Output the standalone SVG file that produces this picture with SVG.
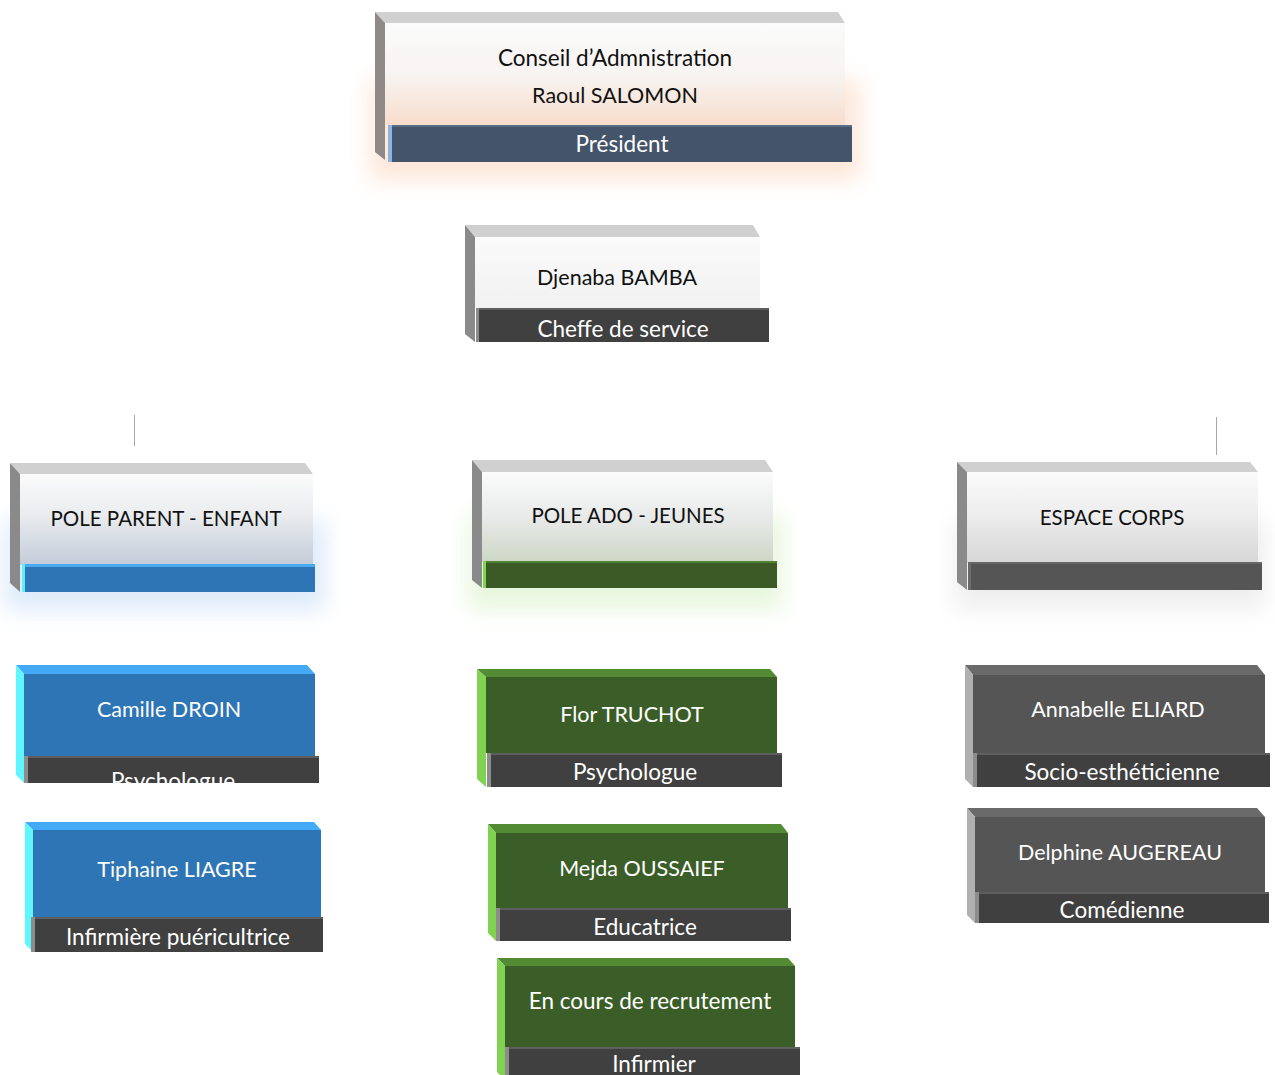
<svg xmlns="http://www.w3.org/2000/svg" width="1275" height="1075" viewBox="0 0 1275 1075">
<defs>
<style>
.t{font-family:Lato,"Liberation Sans",sans-serif;font-size:22.5px;text-anchor:middle}
.c{font-size:21.5px}
.p{font-size:20.5px}
.dk{fill:#111}
.wh{fill:#fff}
.bev{fill:#d0d0d0}
.side{fill:#8a8a8a}
.bar{fill:#404040}
.bartop{fill:#5e5e5e}
.baredge{fill:#8c8c8c}
.conn{stroke:#a6a6a6;stroke-width:1;fill:none}
</style>
<filter id="glow" x="-30%" y="-60%" width="160%" height="220%"><feGaussianBlur stdDeviation="11"/></filter>
<linearGradient id="gPres" x1="0" y1="0" x2="0" y2="1"><stop offset="0" stop-color="#fbfbfb"/><stop offset="0.5" stop-color="#f7f4f2"/><stop offset="1" stop-color="#f9ddcc"/></linearGradient>
<linearGradient id="gWhite" x1="0" y1="0" x2="0" y2="1"><stop offset="0" stop-color="#fbfbfb"/><stop offset="1" stop-color="#f1f1f1"/></linearGradient>
<linearGradient id="gBlue" x1="0" y1="0" x2="0" y2="1"><stop offset="0" stop-color="#fbfbfb"/><stop offset="0.45" stop-color="#eaecef"/><stop offset="1" stop-color="#c3ccd8"/></linearGradient>
<linearGradient id="gGreen" x1="0" y1="0" x2="0" y2="1"><stop offset="0" stop-color="#fbfbfb"/><stop offset="0.5" stop-color="#e8eaea"/><stop offset="1" stop-color="#cdd6c6"/></linearGradient>
<linearGradient id="gGray" x1="0" y1="0" x2="0" y2="1"><stop offset="0" stop-color="#fbfbfb"/><stop offset="0.5" stop-color="#ececec"/><stop offset="1" stop-color="#d6d6d6"/></linearGradient>
<clipPath id="cCam"><rect x="24" y="756" width="296" height="27"/></clipPath>
<clipPath id="cFlor"><rect x="487" y="753" width="296" height="34"/></clipPath>
</defs>
<rect width="1275" height="1075" fill="#fff"/>

<g id="connectors">
<line class="conn" x1="134.5" y1="415" x2="134.5" y2="446"/>
<line class="conn" x1="1216.5" y1="417" x2="1216.5" y2="455"/>
</g>

<g id="president">
<rect x="370" y="80" width="490" height="100" fill="#fbd3ba" opacity="0.55" filter="url(#glow)"/>
<polygon class="bev" points="375,12 838,12 845,23 385,23"/>
<polygon points="375,12 385,23 385,160 375,152" fill="#8f8a88"/>
<rect x="385" y="23" width="460" height="102" fill="url(#gPres)"/>
<rect x="388" y="125" width="464" height="37" fill="#44546a"/>
<rect x="388" y="125" width="464" height="2" fill="#5a6c86"/>
<rect x="388" y="125" width="4" height="37" fill="#8db3e2"/>
<text class="t dk" x="615" y="66">Conseil d’Admnistration</text>
<text class="t c dk" x="615" y="103">Raoul SALOMON</text>
<text class="t wh" x="622" y="152">Président</text>
</g>

<g id="cheffe">
<polygon class="bev" points="465,225 753,225 760,237 475,237"/>
<polygon class="side" points="465,225 475,237 475,342 465,334"/>
<rect x="475" y="237" width="285" height="71" fill="url(#gWhite)"/>
<rect class="bar" x="476" y="308" width="293" height="34"/>
<rect class="bartop" x="476" y="308" width="293" height="2"/>
<rect class="baredge" x="476" y="308" width="3" height="34"/>
<text class="t c dk" x="617" y="285">Djenaba BAMBA</text>
<text class="t wh" x="623" y="337">Cheffe de service</text>
</g>

<g id="pole-parent">
<rect x="5" y="520" width="320" height="90" fill="#cfe2f8" opacity="0.7" filter="url(#glow)"/>
<polygon class="bev" points="10,463 305,463 313,474 20,474"/>
<polygon class="side" points="10,463 20,474 20,592 10,583"/>
<rect x="20" y="474" width="293" height="91" fill="url(#gBlue)"/>
<rect x="22" y="565" width="293" height="27" fill="#2e75b6"/>
<rect x="22" y="564" width="293" height="3" fill="#4aaaf0"/>
<rect x="22" y="564" width="3" height="28" fill="#5cf0ff"/>
<text class="t p dk" x="166" y="526">POLE PARENT - ENFANT</text>
</g>

<g id="pole-ado">
<rect x="468" y="515" width="315" height="95" fill="#dff3d0" opacity="0.7" filter="url(#glow)"/>
<polygon class="bev" points="472,460 765,460 773,472 482,472"/>
<polygon class="side" points="472,460 482,472 482,588 472,580"/>
<rect x="482" y="472" width="291" height="90" fill="url(#gGreen)"/>
<rect x="483" y="562" width="294" height="26" fill="#3b5a26"/>
<rect x="483" y="561" width="294" height="2" fill="#4f8232"/>
<rect x="483" y="561" width="3" height="27" fill="#80d654"/>
<text class="t p dk" x="628" y="523">POLE ADO - JEUNES</text>
</g>

<g id="espace-corps">
<rect x="955" y="520" width="310" height="90" fill="#e4e4e4" opacity="0.6" filter="url(#glow)"/>
<polygon class="bev" points="957,462 1250,462 1258,472 967,472"/>
<polygon class="side" points="957,462 967,472 967,590 957,582"/>
<rect x="967" y="472" width="291" height="91" fill="url(#gGray)"/>
<rect x="968" y="563" width="294" height="27" fill="#555"/>
<rect x="968" y="562" width="294" height="2" fill="#666"/>
<rect x="968" y="562" width="3" height="28" fill="#6a6a6a"/>
<text class="t p dk" x="1112" y="525">ESPACE CORPS</text>
</g>

<g id="camille">
<polygon points="16,665 307,665 315,674 24,674" fill="#45aaf5"/>
<polygon points="16,665 24,674 24,783 16,775" fill="#5ff6ff"/>
<rect x="24" y="674" width="291" height="82" fill="#2e75b6"/>
<rect class="bar" x="24" y="756" width="295" height="27"/>
<rect class="bartop" x="24" y="756" width="295" height="2"/>
<rect class="baredge" x="24" y="756" width="4" height="27"/>
<text class="t c wh" x="169" y="717">Camille DROIN</text>
<text class="t wh" x="173" y="789" clip-path="url(#cCam)">Psychologue</text>
</g>

<g id="tiphaine">
<polygon points="25,822 314,822 321,830 33,830" fill="#45aaf5"/>
<polygon points="25,822 33,830 33,952 25,944" fill="#5ff6ff"/>
<rect x="33" y="830" width="288" height="87" fill="#2e75b6"/>
<rect class="bar" x="31" y="917" width="292" height="35"/>
<rect class="bartop" x="31" y="917" width="292" height="2"/>
<rect class="baredge" x="31" y="917" width="4" height="35"/>
<text class="t c wh" x="177" y="877">Tiphaine LIAGRE</text>
<text class="t wh" x="178" y="945">Infirmière puéricultrice</text>
</g>

<g id="flor">
<polygon points="477,669 770,669 777,677 486,677" fill="#538b35"/>
<polygon points="477,669 486,677 486,787 477,779" fill="#7fd351"/>
<rect x="486" y="677" width="291" height="76" fill="#3b5e28"/>
<rect class="bar" x="487" y="753" width="295" height="34"/>
<rect class="bartop" x="487" y="753" width="295" height="2"/>
<rect class="baredge" x="487" y="753" width="4" height="34"/>
<text class="t c wh" x="632" y="722">Flor TRUCHOT</text>
<text class="t wh" x="635" y="780" clip-path="url(#cFlor)">Psychologue</text>
</g>

<g id="mejda">
<polygon points="488,824 781,824 788,833 496,833" fill="#538b35"/>
<polygon points="488,824 496,833 496,941 488,933" fill="#7fd351"/>
<rect x="496" y="833" width="292" height="75" fill="#3b5e28"/>
<rect class="bar" x="496" y="908" width="295" height="33"/>
<rect class="bartop" x="496" y="908" width="295" height="2"/>
<rect class="baredge" x="496" y="908" width="4" height="33"/>
<text class="t c wh" x="642" y="876">Mejda OUSSAIEF</text>
<text class="t wh" x="645" y="935">Educatrice</text>
</g>

<g id="recrutement">
<polygon points="497,958 788,958 795,966 505,966" fill="#538b35"/>
<polygon points="497,958 505,966 505,1080 497,1072" fill="#7fd351"/>
<rect x="505" y="966" width="290" height="81" fill="#3b5e28"/>
<rect class="bar" x="505" y="1047" width="295" height="35"/>
<rect class="bartop" x="505" y="1047" width="295" height="2"/>
<rect class="baredge" x="505" y="1047" width="4" height="35"/>
<text class="t wh" x="650" y="1009">En cours de recrutement</text>
<text class="t wh" x="654" y="1072">Infirmier</text>
</g>

<g id="annabelle">
<polygon points="965,665 1257,665 1265,675 973,675" fill="#6a6a6a"/>
<polygon points="965,665 973,675 973,787 965,779" fill="#b0b0b0"/>
<rect x="973" y="675" width="292" height="78" fill="#555"/>
<rect class="bar" x="973" y="753" width="297" height="34"/>
<rect class="bartop" x="973" y="753" width="297" height="2"/>
<rect class="baredge" x="973" y="753" width="4" height="34"/>
<text class="t c wh" x="1118" y="717">Annabelle ELIARD</text>
<text class="t wh" x="1122" y="780">Socio-esthéticienne</text>
</g>

<g id="delphine">
<polygon points="967,808 1257,808 1265,817 975,817" fill="#6a6a6a"/>
<polygon points="967,808 975,817 975,923 967,915" fill="#b0b0b0"/>
<rect x="975" y="817" width="290" height="75" fill="#555"/>
<rect class="bar" x="975" y="892" width="294" height="31"/>
<rect class="bartop" x="975" y="892" width="294" height="2"/>
<rect class="baredge" x="975" y="892" width="4" height="31"/>
<text class="t c wh" x="1120" y="860">Delphine AUGEREAU</text>
<text class="t wh" x="1122" y="918">Comédienne</text>
</g>
</svg>
